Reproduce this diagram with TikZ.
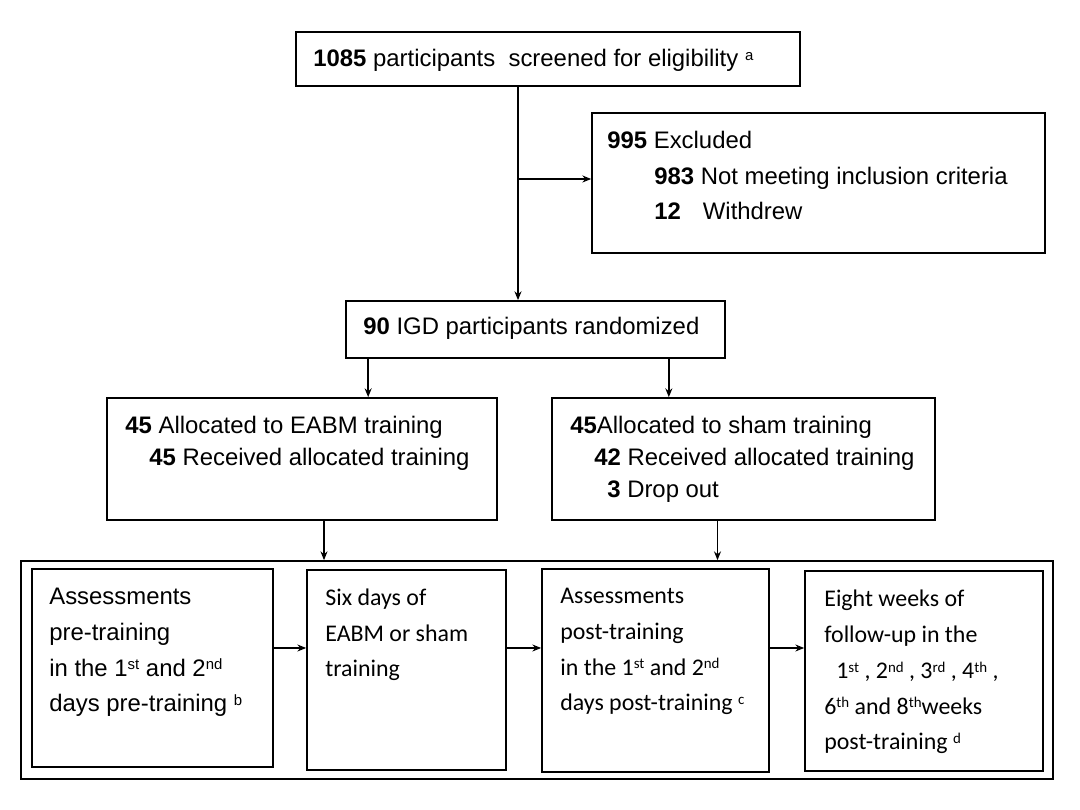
\documentclass[tikz,border=0pt]{standalone}
\usepackage{fontspec}
\setmainfont{Liberation Sans}
\newfontfamily\calfont{Carlito}
\usetikzlibrary{arrows.meta,calc}
\newcommand{\supx}[1]{\raisebox{0.55ex}{\fontsize{8.5pt}{8.5pt}\selectfont #1}}

\begin{document}
\begin{tikzpicture}
        [x=0.02cm, y=-0.02cm,
        box/.style={draw, line width=1pt, inner sep=0pt},
        txt/.style={anchor=base west, align=left, inner sep=0pt, font={\fontsize{13.6pt}{20.4pt}\selectfont}},
        txtCal/.style={anchor=base west, align=left, inner sep=0pt, font={\calfont\fontsize{13.6pt}{20.4pt}\selectfont}},
        arr/.style={line width=0.8pt, -{Stealth[length=5pt, width=4pt]}}]
        \useasboundingbox (0,0) rectangle (1080,810);

        % upper boxes
        \node[box, minimum width=10.08cm, minimum height=1.08cm] (screen) at (548,59) {};
        \node[box, minimum width=9.06cm, minimum height=2.8cm] (excl) at (818.5,183) {};
        \node[box, minimum width=7.58cm, minimum height=1.14cm] (rand) at (535.5,329.5) {};
        \node[box, minimum width=7.8cm, minimum height=2.44cm] (eabm) at (302,459) {};
        \node[box, minimum width=7.66cm, minimum height=2.44cm] (sham) at (743.5,459) {};

        % lower boxes
        \node[box, minimum width=20.64cm, minimum height=4.36cm] (outer) at (537,670) {};
        \node[box, minimum width=4.82cm, minimum height=3.96cm] (pre) at (152.5,668) {};
        \node[box, minimum width=3.98cm, minimum height=4cm] (six) at (406.5,670) {};
        \node[box, minimum width=4.54cm, minimum height=4.06cm] (post) at (655.5,670.5) {};
        \node[box, minimum width=4.76cm, minimum height=4cm] (follow) at (924,671) {};

        % texts (placed at the baseline of their last line)
        \node[txt] (screenTxt) at (313,67) {\textbf{1085} participants\ \ screened for eligibility \supx{a}};
        \node[txt] (exclTxt) at (607,220) {\textbf{995} Excluded\\
            \hspace*{0.94cm}\textbf{983} Not meeting inclusion criteria\\
            \hspace*{0.94cm}\textbf{12}\hspace{0.44cm}Withdrew};
        \node[txt] (randTxt) at (363,335) {\textbf{90} IGD participants randomized};
        \node[txt, font={\fontsize{13.6pt}{18.4pt}\selectfont}] (eabmTxt) at (125,466) {\textbf{45} Allocated to EABM training\\
            \hspace*{0.48cm}\textbf{45} Received allocated training};
        \node[txt, font={\fontsize{13.6pt}{18.4pt}\selectfont}] (shamTxt) at (570,498) {\textbf{45}Allocated to sham training\\
            \hspace*{0.48cm}\textbf{42} Received allocated training\\
            \hspace*{0.74cm}\textbf{3} Drop out};
        \node[txt] (preTxt) at (49,712) {Assessments\\ pre-training\\
            in the 1\supx{st} and 2\supx{nd}\\ days pre-training \supx{b}};
        \node[txtCal] (sixTxt) at (325,677) {Six days of\\ EABM or sham\\ training};
        \node[txtCal] (postTxt) at (560,711) {Assessments\\ post-training\\
            in the 1\supx{st} and 2\supx{nd}\\ days post-training \supx{c}};
        \node[txtCal] (followTxt) at (824,750) {Eight weeks of\\ follow-up in the\\
            \hspace*{0.24cm}1\supx{st} , 2\supx{nd} , 3\supx{rd} , 4\supx{th} ,\\
            6\supx{th} and 8\supx{th}weeks\\ post-training \supx{d}};

        % connectors
        \coordinate (split) at (518,179);
        \coordinate (r1) at ($(rand.south west)+(23,0)$);
        \coordinate (r2) at ($(rand.south east)+(-57,0)$);
        \coordinate (e1) at ($(eabm.south)+(22,0)$);
        \coordinate (s1) at ($(sham.south)+(-26,0)$);
        \coordinate (mid) at (0,648);

        \draw[arr] (screen.south -| split) -- (rand.north -| split);
        \draw[arr] (split) -- (split -| excl.west);
        \draw[arr] (r1) -- (r1 |- eabm.north);
        \draw[arr] (r2) -- (r2 |- sham.north);
        \draw[arr] (e1) -- (e1 |- outer.north);
        \draw[arr] (s1) -- (s1 |- outer.north);
        \draw[arr] (pre.east |- mid) -- (six.west |- mid);
        \draw[arr] (six.east |- mid) -- (post.west |- mid);
        \draw[arr] (post.east |- mid) -- (follow.west |- mid);

    \end{tikzpicture}
\end{document}
